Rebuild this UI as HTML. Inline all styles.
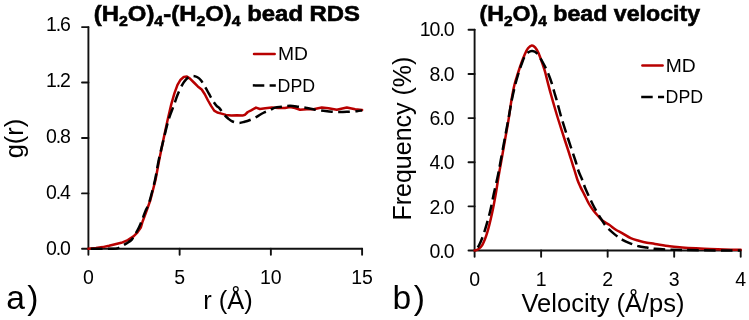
<!DOCTYPE html>
<html><head><meta charset="utf-8"><style>
html,body{margin:0;padding:0;background:#fff;}
body{width:749px;height:320px;overflow:hidden;}
svg{display:block;will-change:transform;}
text{font-family:"Liberation Sans", sans-serif;fill:#000;}
</style></head><body>
<svg width="749" height="320" viewBox="0 0 749 320">
<rect width="749" height="320" fill="#fff"/>
<g stroke="#111" stroke-width="1.9" stroke-linecap="round" stroke-linejoin="round" fill="none">
<line x1="88.40" y1="27.10" x2="88.40" y2="248.80"/>
<line x1="88.40" y1="248.80" x2="362.10" y2="248.80"/>
<line x1="82.00" y1="248.80" x2="88.40" y2="248.80"/>
<line x1="82.00" y1="193.38" x2="88.40" y2="193.38"/>
<line x1="82.00" y1="137.95" x2="88.40" y2="137.95"/>
<line x1="82.00" y1="82.53" x2="88.40" y2="82.53"/>
<line x1="82.00" y1="27.10" x2="88.40" y2="27.10"/>
<line x1="88.40" y1="248.80" x2="88.40" y2="254.70"/>
<line x1="179.63" y1="248.80" x2="179.63" y2="254.70"/>
<line x1="270.87" y1="248.80" x2="270.87" y2="254.70"/>
<line x1="362.10" y1="248.80" x2="362.10" y2="254.70"/>
<line x1="474.60" y1="29.80" x2="474.60" y2="250.50"/>
<line x1="474.60" y1="250.50" x2="740.70" y2="250.50"/>
<line x1="468.50" y1="250.50" x2="474.60" y2="250.50"/>
<line x1="468.50" y1="206.36" x2="474.60" y2="206.36"/>
<line x1="468.50" y1="162.22" x2="474.60" y2="162.22"/>
<line x1="468.50" y1="118.08" x2="474.60" y2="118.08"/>
<line x1="468.50" y1="73.94" x2="474.60" y2="73.94"/>
<line x1="468.50" y1="29.80" x2="474.60" y2="29.80"/>
<line x1="474.60" y1="250.50" x2="474.60" y2="256.80"/>
<line x1="541.12" y1="250.50" x2="541.12" y2="256.80"/>
<line x1="607.65" y1="250.50" x2="607.65" y2="256.80"/>
<line x1="674.18" y1="250.50" x2="674.18" y2="256.80"/>
<line x1="740.70" y1="250.50" x2="740.70" y2="256.80"/>
</g>
<g fill="none" stroke-width="2.5" stroke-linejoin="round">
<path d="M88.40,248.80 L96.00,248.00 L102.70,247.10 L109.00,245.80 L113.10,244.80 L121.30,242.80 L127.80,240.10 L133.50,236.40 L137.50,232.30 L140.80,227.60 L142.60,221.50 L146.40,211.40 L150.40,200.00 L155.50,180.00 L159.20,160.00 L163.30,140.00 L167.60,120.00 L171.25,104.40 L174.40,93.40 L177.50,84.80 L180.60,79.70 L183.75,77.00 L186.90,76.60 L190.00,78.60 L193.90,82.50 L197.80,86.40 L201.70,89.50 L204.80,94.20 L208.00,100.50 L211.10,105.90 L214.20,110.60 L217.30,112.50 L221.50,113.60 L225.90,114.90 L231.40,115.60 L236.90,115.20 L242.40,115.60 L245.10,114.70 L247.80,112.00 L251.10,110.30 L256.00,107.60 L259.90,109.00 L265.30,108.30 L271.90,107.60 L278.40,108.00 L285.00,108.00 L290.00,107.00 L295.00,108.00 L300.00,109.70 L306.80,109.20 L313.50,109.20 L321.80,107.50 L328.50,108.30 L336.80,109.70 L346.80,107.50 L355.20,109.20 L362.10,110.00" stroke="#B80000" stroke-linecap="round"/>
<path d="M88.40,248.80 C92.50,248.78 108.07,248.82 113.00,248.70 C117.93,248.58 116.55,248.52 118.00,248.10 C119.45,247.68 120.28,246.98 121.70,246.20 C123.12,245.42 124.88,244.43 126.50,243.40 C128.12,242.37 130.10,241.32 131.40,240.00 C132.70,238.68 133.27,237.13 134.30,235.50 C135.33,233.87 136.57,232.12 137.60,230.20 C138.63,228.28 139.67,225.95 140.50,224.00 C141.33,222.05 141.75,220.73 142.60,218.50 C143.45,216.27 144.50,213.28 145.60,210.60 C146.70,207.92 147.63,207.50 149.20,202.40 C150.77,197.30 153.41,187.07 155.00,180.00 C156.59,172.93 157.33,166.67 158.75,160.00 C160.17,153.33 161.88,146.67 163.50,140.00 C165.12,133.33 166.82,125.67 168.50,120.00 C170.18,114.33 172.10,110.17 173.60,106.00 C175.10,101.83 176.07,98.53 177.50,95.00 C178.93,91.47 180.77,87.40 182.20,84.80 C183.63,82.20 184.93,80.70 186.10,79.40 C187.27,78.10 188.03,77.58 189.20,77.00 C190.37,76.42 191.80,75.90 193.10,75.90 C194.40,75.90 195.70,76.28 197.00,77.00 C198.30,77.72 199.60,78.63 200.90,80.20 C202.20,81.77 203.49,84.20 204.80,86.40 C206.11,88.60 207.43,91.05 208.75,93.40 C210.07,95.75 211.39,98.42 212.70,100.50 C214.01,102.58 215.48,104.63 216.60,105.90 C217.72,107.17 218.21,106.73 219.40,108.10 C220.59,109.47 222.30,112.37 223.75,114.10 C225.20,115.83 226.64,117.27 228.10,118.50 C229.56,119.73 230.67,120.77 232.50,121.50 C234.33,122.23 237.10,122.85 239.10,122.90 C241.10,122.95 242.68,122.28 244.50,121.80 C246.32,121.32 247.98,120.82 250.00,120.00 C252.02,119.18 254.42,118.07 256.60,116.90 C258.78,115.73 260.92,114.10 263.10,113.00 C265.28,111.90 267.72,111.20 269.70,110.30 C271.68,109.40 273.00,108.20 275.00,107.60 C277.00,107.00 279.20,107.00 281.70,106.70 C284.20,106.40 287.22,105.80 290.00,105.80 C292.78,105.80 295.60,106.33 298.40,106.70 C301.20,107.07 304.03,107.50 306.80,108.00 C309.57,108.50 312.22,109.23 315.00,109.70 C317.78,110.17 320.70,110.47 323.50,110.80 C326.30,111.13 329.02,111.50 331.80,111.70 C334.58,111.90 337.42,112.00 340.20,112.00 C342.98,112.00 345.72,111.83 348.50,111.70 C351.28,111.57 354.63,111.40 356.90,111.20 C359.17,111.00 361.23,110.62 362.10,110.50" stroke="#000" stroke-dasharray="11.7 5.4" stroke-dashoffset="-2.4"/>
<path d="M474.60,250.50 C475.10,250.35 476.30,250.55 477.60,249.60 C478.90,248.65 480.80,247.62 482.40,244.80 C484.00,241.98 485.60,237.92 487.20,232.70 C488.80,227.48 490.58,219.91 492.00,213.50 C493.42,207.09 494.57,200.67 495.70,194.25 C496.83,187.83 497.83,180.71 498.80,175.00 C499.77,169.29 500.47,165.83 501.50,160.00 C502.53,154.17 503.83,146.67 505.00,140.00 C506.17,133.33 507.42,126.67 508.50,120.00 C509.58,113.33 510.52,105.83 511.50,100.00 C512.48,94.17 513.37,89.33 514.40,85.00 C515.43,80.67 516.57,77.58 517.70,74.00 C518.83,70.42 520.02,66.80 521.20,63.50 C522.38,60.20 523.67,56.75 524.80,54.20 C525.93,51.65 526.83,49.67 528.00,48.20 C529.17,46.73 530.62,45.55 531.80,45.40 C532.98,45.25 534.02,46.10 535.10,47.30 C536.18,48.50 537.23,50.32 538.30,52.60 C539.37,54.88 540.42,57.95 541.50,61.00 C542.58,64.05 543.72,67.17 544.80,70.90 C545.88,74.63 546.95,79.38 548.00,83.40 C549.05,87.42 549.87,90.57 551.10,95.00 C552.33,99.43 554.18,105.83 555.40,110.00 C556.62,114.17 556.83,115.00 558.40,120.00 C559.97,125.00 563.13,134.83 564.80,140.00 C566.47,145.17 567.32,147.67 568.40,151.00 C569.48,154.33 570.25,156.83 571.25,160.00 C572.25,163.17 573.36,166.67 574.40,170.00 C575.44,173.33 576.52,177.23 577.50,180.00 C578.48,182.77 579.17,184.20 580.30,186.60 C581.42,189.00 582.82,191.54 584.25,194.40 C585.68,197.26 587.34,201.02 588.90,203.75 C590.46,206.48 592.03,208.72 593.60,210.80 C595.17,212.88 596.73,214.55 598.30,216.25 C599.87,217.95 601.17,219.57 603.00,221.00 C604.83,222.43 607.17,223.38 609.25,224.80 C611.33,226.22 613.29,228.08 615.50,229.50 C617.71,230.92 619.97,231.85 622.50,233.30 C625.03,234.75 627.98,236.97 630.70,238.20 C633.42,239.43 636.08,239.95 638.80,240.70 C641.52,241.45 644.30,242.17 647.00,242.70 C649.70,243.23 651.22,243.30 655.00,243.90 C658.78,244.50 665.20,245.72 669.70,246.30 C674.20,246.88 677.62,247.07 682.00,247.40 C686.38,247.73 691.33,248.03 696.00,248.30 C700.67,248.57 705.33,248.80 710.00,249.00 C714.67,249.20 718.88,249.37 724.00,249.50 C729.12,249.63 737.92,249.75 740.70,249.80" stroke="#B80000" stroke-linecap="round"/>
<path d="M474.60,250.50 C474.83,250.35 475.22,250.55 476.00,249.60 C476.78,248.65 477.95,247.62 479.30,244.80 C480.65,241.98 482.38,237.92 484.10,232.70 C485.82,227.48 488.00,219.91 489.60,213.50 C491.20,207.09 492.30,200.67 493.70,194.25 C495.10,187.83 496.82,180.71 498.00,175.00 C499.18,169.29 499.72,165.83 500.80,160.00 C501.88,154.17 503.27,146.67 504.50,140.00 C505.73,133.33 506.98,126.67 508.20,120.00 C509.42,113.33 510.63,105.83 511.80,100.00 C512.97,94.17 514.12,89.33 515.20,85.00 C516.28,80.67 517.27,77.38 518.30,74.00 C519.33,70.62 520.37,67.55 521.40,64.70 C522.43,61.85 523.33,58.97 524.50,56.90 C525.67,54.83 527.10,53.28 528.40,52.30 C529.70,51.32 530.87,50.83 532.30,51.00 C533.73,51.17 535.52,51.87 537.00,53.30 C538.48,54.73 539.87,57.38 541.20,59.60 C542.53,61.82 543.73,64.03 545.00,66.60 C546.27,69.17 547.67,72.20 548.80,75.00 C549.93,77.80 550.87,80.48 551.80,83.40 C552.73,86.32 553.60,89.73 554.40,92.50 C555.20,95.27 555.78,97.08 556.60,100.00 C557.42,102.92 558.38,106.67 559.30,110.00 C560.22,113.33 560.57,115.00 562.10,120.00 C563.63,125.00 566.32,133.33 568.50,140.00 C570.68,146.67 573.53,154.83 575.20,160.00 C576.87,165.17 577.32,167.67 578.50,171.00 C579.68,174.33 581.12,177.00 582.30,180.00 C583.48,183.00 583.85,184.92 585.60,189.00 C587.35,193.08 590.94,200.73 592.80,204.50 C594.66,208.27 595.32,209.12 596.75,211.60 C598.18,214.08 599.84,216.95 601.40,219.40 C602.96,221.85 603.93,223.85 606.10,226.30 C608.27,228.75 611.67,231.85 614.40,234.10 C617.13,236.35 619.78,238.22 622.50,239.80 C625.22,241.38 627.98,242.52 630.70,243.60 C633.42,244.68 636.10,245.63 638.80,246.30 C641.50,246.97 644.20,247.18 646.90,247.60 C649.60,248.02 651.20,248.47 655.00,248.80 C658.80,249.13 662.20,249.35 669.70,249.60 C677.20,249.85 688.17,250.15 700.00,250.30 C711.83,250.45 733.92,250.47 740.70,250.50" stroke="#000" stroke-dasharray="11.5 5.3" stroke-dashoffset="-4.5"/>
<line x1="254.0" y1="54" x2="274.7" y2="54" stroke="#B80000" stroke-linecap="round"/>
<line x1="252.8" y1="85.4" x2="275.8" y2="85.4" stroke="#000" stroke-dasharray="11.5 5.3"/>
<line x1="642.4" y1="65.6" x2="662.6" y2="65.6" stroke="#B80000" stroke-linecap="round"/>
<line x1="641.2" y1="96.9" x2="664.1" y2="96.9" stroke="#000" stroke-dasharray="11.5 5.3"/>
</g>
<g>
<text x="69.60" y="31.40" font-size="19.50" text-anchor="end" font-weight="normal" letter-spacing="-1.2">1.6</text>
<text x="69.60" y="87.36" font-size="19.50" text-anchor="end" font-weight="normal" letter-spacing="-1.2">1.2</text>
<text x="69.60" y="143.32" font-size="19.50" text-anchor="end" font-weight="normal" letter-spacing="-1.2">0.8</text>
<text x="69.60" y="199.28" font-size="19.50" text-anchor="end" font-weight="normal" letter-spacing="-1.2">0.4</text>
<text x="69.60" y="255.24" font-size="19.50" text-anchor="end" font-weight="normal" letter-spacing="-1.2">0.0</text>
<text x="88.40" y="284.30" font-size="19.50" text-anchor="middle" font-weight="normal" >0</text>
<text x="179.63" y="284.30" font-size="19.50" text-anchor="middle" font-weight="normal" >5</text>
<text x="270.87" y="284.30" font-size="19.50" text-anchor="middle" font-weight="normal" >10</text>
<text x="362.10" y="284.30" font-size="19.50" text-anchor="middle" font-weight="normal" >15</text>
<text x="453.60" y="36.40" font-size="19.50" text-anchor="end" font-weight="normal" letter-spacing="-1.0">10.0</text>
<text x="453.60" y="80.72" font-size="19.50" text-anchor="end" font-weight="normal" letter-spacing="-1.0">8.0</text>
<text x="453.60" y="125.04" font-size="19.50" text-anchor="end" font-weight="normal" letter-spacing="-1.0">6.0</text>
<text x="453.60" y="169.36" font-size="19.50" text-anchor="end" font-weight="normal" letter-spacing="-1.0">4.0</text>
<text x="453.60" y="213.68" font-size="19.50" text-anchor="end" font-weight="normal" letter-spacing="-1.0">2.0</text>
<text x="453.60" y="258.00" font-size="19.50" text-anchor="end" font-weight="normal" letter-spacing="-1.0">0.0</text>
<text x="474.60" y="286.00" font-size="19.50" text-anchor="middle" font-weight="normal" >0</text>
<text x="541.12" y="286.00" font-size="19.50" text-anchor="middle" font-weight="normal" >1</text>
<text x="607.65" y="286.00" font-size="19.50" text-anchor="middle" font-weight="normal" >2</text>
<text x="674.18" y="286.00" font-size="19.50" text-anchor="middle" font-weight="normal" >3</text>
<text x="740.70" y="286.00" font-size="19.50" text-anchor="middle" font-weight="normal" >4</text>
<text x="278.00" y="60.40" font-size="19.00" text-anchor="start" font-weight="normal" textLength="30" lengthAdjust="spacingAndGlyphs">MD</text>
<text x="277.60" y="91.90" font-size="19.00" text-anchor="start" font-weight="normal" textLength="37.5" lengthAdjust="spacingAndGlyphs">DPD</text>
<text x="665.80" y="71.80" font-size="19.00" text-anchor="start" font-weight="normal" textLength="30" lengthAdjust="spacingAndGlyphs">MD</text>
<text x="665.60" y="103.20" font-size="19.00" text-anchor="start" font-weight="normal" textLength="37.5" lengthAdjust="spacingAndGlyphs">DPD</text>
<text x="228.00" y="308.60" font-size="25.50" text-anchor="middle" font-weight="normal" >r (&#197;)</text>
<text x="603.00" y="311.60" font-size="25.50" text-anchor="middle" font-weight="normal" >Velocity (&#197;/ps)</text>
<text transform="translate(23.1,138.5) rotate(-90)" font-size="25.50" text-anchor="middle">g(r)</text>
<text transform="translate(410.8,138.6) rotate(-90)" font-size="25.50" text-anchor="middle" textLength="164" lengthAdjust="spacingAndGlyphs">Frequency (%)</text>
<text x="6.30" y="308.80" font-size="33.60" text-anchor="start" font-weight="normal" letter-spacing="2.3">a)</text>
<text x="392.60" y="308.80" font-size="33.60" text-anchor="start" font-weight="normal" letter-spacing="2.6">b)</text>
<g transform="translate(93.8,0) scale(1.0615,1)"><text x="0" y="20.8" font-size="22.50" font-weight="bold" stroke="#000" stroke-width="0.6">(H<tspan font-size="15" dy="5.4">2</tspan><tspan dy="-5.4">O)</tspan><tspan font-size="15" dy="5.4">4</tspan><tspan dy="-5.4">-(H</tspan><tspan font-size="15" dy="5.4">2</tspan><tspan dy="-5.4">O)</tspan><tspan font-size="15" dy="5.4">4</tspan><tspan dy="-5.4"> bead RDS</tspan></text></g>
<g transform="translate(479.5,0) scale(1.03,1)"><text x="0" y="20.8" font-size="22.50" font-weight="bold" stroke="#000" stroke-width="0.6">(H<tspan font-size="15" dy="5.4">2</tspan><tspan dy="-5.4">O)</tspan><tspan font-size="15" dy="5.4">4</tspan><tspan dy="-5.4"> bead velocity</tspan></text></g>
</g>
</svg>
</body></html>
